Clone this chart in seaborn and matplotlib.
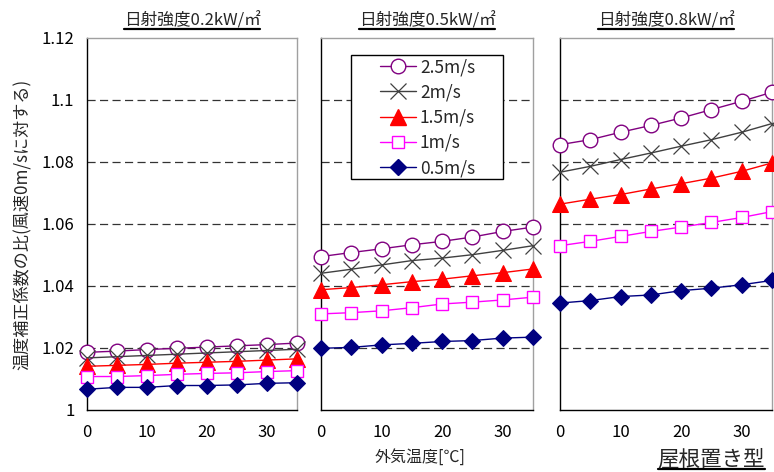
import numpy as np
import pandas as pd
import matplotlib
matplotlib.use("Agg")
import matplotlib.pyplot as plt
import seaborn as sns
from matplotlib.lines import Line2D
from matplotlib.patches import Rectangle
from matplotlib.transforms import IdentityTransform

# ---------------- data ----------------
temps = [0, 5, 10, 15, 20, 25, 30, 35]
panel_titles = ["日射強度0.2kW/㎡", "日射強度0.5kW/㎡", "日射強度0.8kW/㎡"]
wind_labels = ["2.5m/s", "2m/s", "1.5m/s", "1m/s", "0.5m/s"]

# irradiance 0.2 kW/m2
w25_p1 = [1.0186, 1.0190, 1.0195, 1.0199, 1.0203, 1.0207, 1.0211, 1.0216]
w20_p1 = [1.0168, 1.0172, 1.0176, 1.0180, 1.0184, 1.0188, 1.0192, 1.0196]
w15_p1 = [1.0141, 1.0144, 1.0147, 1.0151, 1.0154, 1.0157, 1.0161, 1.0165]
w10_p1 = [1.0108, 1.0108, 1.0111, 1.0115, 1.0118, 1.0120, 1.0124, 1.0127]
w05_p1 = [1.0067, 1.0073, 1.0073, 1.0079, 1.0079, 1.0081, 1.0086, 1.0088]

# irradiance 0.5 kW/m2
w25_p2 = [1.0495, 1.0508, 1.0520, 1.0533, 1.0544, 1.0558, 1.0576, 1.0590]
w20_p2 = [1.0441, 1.0454, 1.0468, 1.0482, 1.0490, 1.0501, 1.0515, 1.0530]
w15_p2 = [1.0388, 1.0395, 1.0404, 1.0414, 1.0422, 1.0433, 1.0443, 1.0455]
w10_p2 = [1.0310, 1.0314, 1.0320, 1.0330, 1.0342, 1.0348, 1.0355, 1.0364]
w05_p2 = [1.0199, 1.0202, 1.0210, 1.0215, 1.0221, 1.0224, 1.0232, 1.0235]

# irradiance 0.8 kW/m2
w25_p3 = [1.0856, 1.0872, 1.0896, 1.0918, 1.0942, 1.0969, 1.0996, 1.1025]
w20_p3 = [1.0767, 1.0786, 1.0808, 1.0829, 1.0851, 1.0872, 1.0896, 1.0924]
w15_p3 = [1.0664, 1.0680, 1.0695, 1.0713, 1.0730, 1.0748, 1.0770, 1.0797]
w10_p3 = [1.0530, 1.0544, 1.0560, 1.0576, 1.0590, 1.0605, 1.0621, 1.0640]
w05_p3 = [1.0345, 1.0353, 1.0366, 1.0371, 1.0385, 1.0393, 1.0404, 1.0418]

panels = [
    [w25_p1, w20_p1, w15_p1, w10_p1, w05_p1],
    [w25_p2, w20_p2, w15_p2, w10_p2, w05_p2],
    [w25_p3, w20_p3, w15_p3, w10_p3, w05_p3],
]

y_ticks = [1.0, 1.02, 1.04, 1.06, 1.08, 1.10, 1.12]
y_ticklabels = ["1", "1.02", "1.04", "1.06", "1.08", "1.1", "1.12"]
x_ticks = [0, 10, 20, 30]
x_label = "外気温度[℃]"
y_label = "温度補正係数の比(風速0m/sに対する)"
corner_label = "屋根置き型"

rows = []
for pi, series in enumerate(panels):
    for lab, vals in zip(wind_labels, series):
        for t, v in zip(temps, vals):
            rows.append({"panel": pi, "wind": lab, "temp": t, "ratio": v})
df = pd.DataFrame(rows)

# ---------------- styles ----------------
styles = {
    "2.5m/s": dict(color="#800080", marker="o", markersize=10.5, markerfacecolor="white",
                   markeredgecolor="#800080", markeredgewidth=1.0),
    "2m/s": dict(color="#404040", marker="x", markersize=11, markeredgecolor="#404040",
                 markeredgewidth=0.9),
    "1.5m/s": dict(color="#ff0000", marker="^", markersize=11.5, markerfacecolor="#ff0000",
                   markeredgecolor="#ff0000"),
    "1m/s": dict(color="#ff00ff", marker="s", markersize=8.5, markerfacecolor="white",
                 markeredgecolor="#ff00ff", markeredgewidth=1.0),
    "0.5m/s": dict(color="#000080", marker="D", markersize=8.5, markerfacecolor="#000080",
                   markeredgecolor="#000080"),
}

sns.set_style("white")
plt.rcParams["font.family"] = ["Noto Sans CJK JP", "DejaVu Sans"]
plt.rcParams["axes.unicode_minus"] = False

W, H = 774, 472
fig = plt.figure(figsize=(W / 100, H / 100), dpi=100)

top_px, bot_px = 38, 410
lefts = [87, 321, 560]
widths = [210, 212, 212]
axes = []
for i in range(3):
    ax = fig.add_axes([lefts[i] / W, 1 - bot_px / H, widths[i] / W, (bot_px - top_px) / H])
    axes.append(ax)

for pi, ax in enumerate(axes):
    sub = df[df["panel"] == pi]
    for y in y_ticks[1:-1]:
        ax.axhline(y, color="#333333", lw=0.9, linestyle=(0, (6.5, 3.5)), zorder=1)
    for lab in wind_labels:
        d = sub[sub["wind"] == lab]
        sns.lineplot(data=d, x="temp", y="ratio", ax=ax, label=lab, lw=1.0,
                     clip_on=False, zorder=3, legend=False, **styles[lab])
    ax.set_xlim(0, 35)
    ax.set_ylim(1.0, 1.12)
    ax.set_xticks(x_ticks)
    ax.set_xticklabels([str(t) for t in x_ticks])
    ax.set_yticks(y_ticks)
    if pi == 0:
        ax.set_yticklabels(y_ticklabels)
    else:
        ax.set_yticklabels([])
    ax.tick_params(axis="both", direction="in", length=4, width=0.9, color="black",
                   labelsize=12, colors="black")
    ax.tick_params(axis="x", pad=10)
    ax.tick_params(axis="y", pad=9)
    ax.set_xlabel("")
    ax.set_ylabel("")
    for s in ["left", "bottom"]:
        ax.spines[s].set_color("black")
        ax.spines[s].set_linewidth(1.0)
    for s in ["top", "right"]:
        ax.spines[s].set_color("#a0a0a0")
        ax.spines[s].set_linewidth(1.0)
    ax.set_facecolor("white")

axes[1].set_xlabel(x_label, fontsize=11.5)
axes[1].xaxis.set_label_coords((420 - 321) / 212, -(449 - 410) / 372)
axes[0].set_ylabel(y_label, fontsize=12.3, labelpad=7)

# legend box in middle panel (frame drawn as a rectangle to match padding)
ax2 = axes[1]
bx0, bx1 = (351 - 321) / 212, (503 - 321) / 212
by0, by1 = (410 - 179) / 372, (410 - 55) / 372
ax2.add_patch(Rectangle((bx0, by0), bx1 - bx0, by1 - by0, transform=ax2.transAxes,
                        facecolor="white", edgecolor="black", lw=1.0, zorder=5))
handles = [Line2D([0], [0], lw=1.0, **styles[lab]) for lab in wind_labels]
leg = ax2.legend(handles, wind_labels, loc="upper left",
                 bbox_to_anchor=((380 - 321) / 212, (410 - 58) / 372),
                 frameon=False, fontsize=12.5, handlelength=2.1,
                 labelspacing=0.42, borderpad=0.0, handletextpad=0.2,
                 borderaxespad=0)
leg.set_zorder(6)

# titles
title_texts = []
for i, ax in enumerate(axes):
    cx = (lefts[i] + widths[i] / 2) / W
    t = fig.text(cx, 1 - 21 / H, panel_titles[i], ha="center", va="center", fontsize=12)
    title_texts.append(t)
ct = fig.text(765 / W, 1 - 459 / H, corner_label, ha="right", va="center", fontsize=15.5)

fig.canvas.draw()
renderer = fig.canvas.get_renderer()
for t in title_texts + [ct]:
    bb = t.get_window_extent(renderer)
    yline = bb.y0 + 1
    fig.add_artist(Line2D([bb.x0, bb.x1], [yline, yline], transform=IdentityTransform(),
                          color="black", lw=1.6))

fig.savefig("out.png", dpi=100, facecolor="white")
